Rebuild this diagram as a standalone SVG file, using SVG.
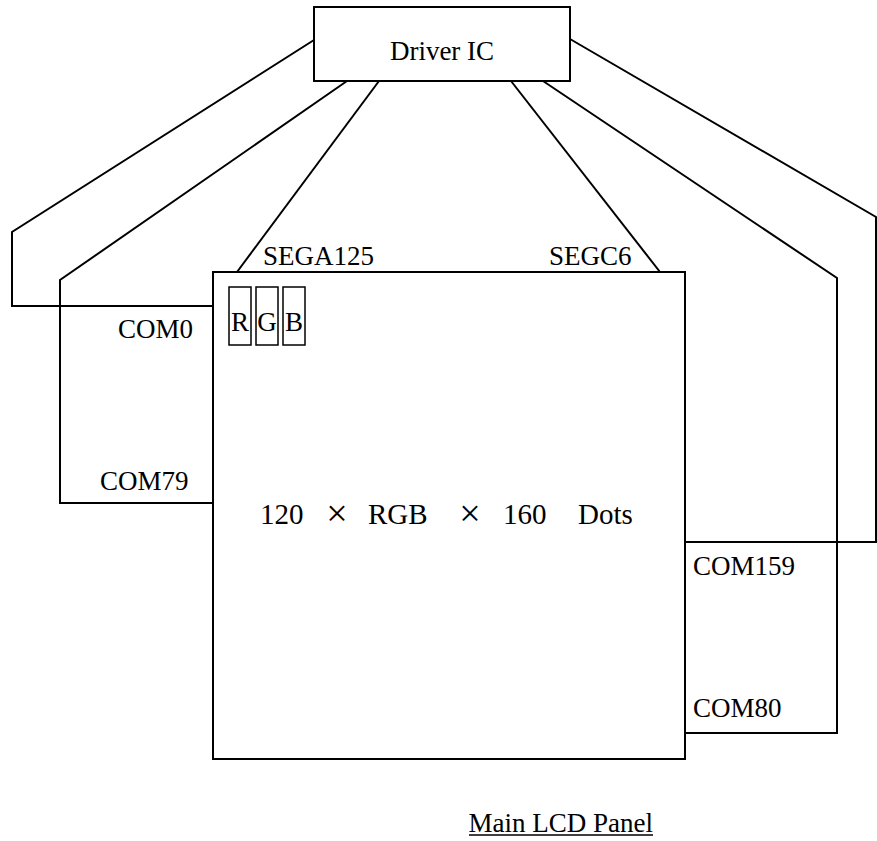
<svg xmlns="http://www.w3.org/2000/svg" width="877" height="841" viewBox="0 0 877 841">
<style>
  .box { fill: #fff; stroke: #000; stroke-width: 2; }
  .cell { fill: none; stroke: #000; stroke-width: 1.5; }
  .wire { fill: none; stroke: #000; stroke-width: 2; stroke-linejoin: miter; }
  text { font-family: "Liberation Serif", "Times New Roman", serif; fill: #000; }
  .lbl { font-size: 27px; }
  .big { font-size: 29px; }
  .times { font-size: 38px; text-anchor: middle; }
  .rgb { font-size: 27px; text-anchor: middle; }
</style>
<rect width="877" height="841" fill="#fff"/>
<g id="connectors">
  <polyline class="wire" points="314,40 12,232 12,306 213,306"/>
  <polyline class="wire" points="347,81 60,280 60,503 213,503"/>
  <line class="wire" x1="379" y1="81" x2="237" y2="272"/>
  <line class="wire" x1="511" y1="81" x2="660" y2="272"/>
  <polyline class="wire" points="543,81 837,278 837,733 685,733"/>
  <polyline class="wire" points="570,39 876,217 876,542 685,542"/>
</g>
<g id="driver-ic">
  <rect class="box" x="314" y="7" width="256" height="74"/>
  <text class="lbl" x="442" y="60" text-anchor="middle">Driver IC</text>
</g>
<g id="lcd-panel">
  <rect class="box" x="213" y="272" width="472" height="487"/>
  <text class="big" x="260" y="524">120</text>
  <text class="times" x="337" y="526">×</text>
  <text class="big" x="368" y="524">RGB</text>
  <text class="times" x="470" y="526">×</text>
  <text class="big" x="503" y="524">160</text>
  <text class="big" x="578" y="524">Dots</text>
</g>
<g id="rgb-cells">
  <rect class="cell" x="229" y="287" width="22" height="58"/>
  <rect class="cell" x="256" y="287" width="22" height="58"/>
  <rect class="cell" x="283" y="287" width="22" height="58"/>
  <text class="rgb" x="240" y="331">R</text>
  <text class="rgb" x="267" y="331">G</text>
  <text class="rgb" x="294" y="331">B</text>
</g>
<g id="labels">
  <text class="lbl" x="263" y="265">SEGA125</text>
  <text class="lbl" x="549" y="265">SEGC6</text>
  <text class="lbl" x="118" y="338">COM0</text>
  <text class="lbl" x="100" y="490">COM79</text>
  <text class="lbl" x="693" y="575">COM159</text>
  <text class="lbl" x="693" y="717">COM80</text>
</g>
<g id="caption">
  <text class="lbl" x="653" y="832" text-anchor="end">Main LCD Panel</text>
  <line x1="469" y1="835" x2="653" y2="835" stroke="#000" stroke-width="1.5"/>
</g>
</svg>
